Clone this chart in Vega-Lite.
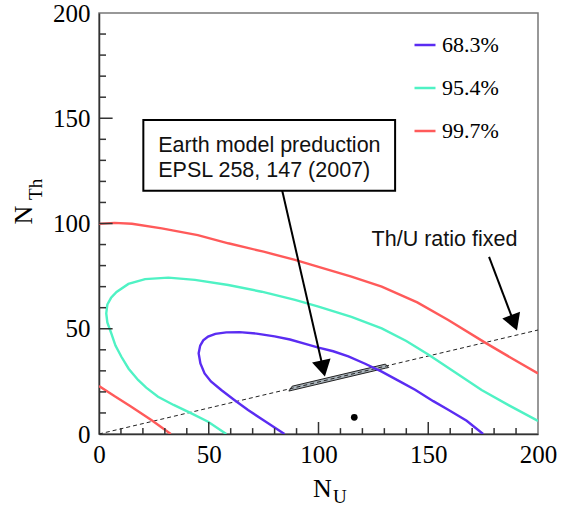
{
  "$schema": "https://vega.github.io/schema/vega-lite/v6.json",
  "width": 439,
  "height": 421,
  "autosize": {"type": "none"},
  "padding": {"left": 99, "top": 13, "right": 28, "bottom": 74},
  "background": "white",
  "datasets": {
    "contours": [
      {"level": "99.7%", "seg": "r1", "i": 0, "NU": 0, "NTh": 99.8},
      {"level": "99.7%", "seg": "r1", "i": 1, "NU": 7, "NTh": 100.3},
      {"level": "99.7%", "seg": "r1", "i": 2, "NU": 15, "NTh": 99.9},
      {"level": "99.7%", "seg": "r1", "i": 3, "NU": 28.6, "NTh": 97.7},
      {"level": "99.7%", "seg": "r1", "i": 4, "NU": 45, "NTh": 94.5},
      {"level": "99.7%", "seg": "r1", "i": 5, "NU": 58.9, "NTh": 90.6},
      {"level": "99.7%", "seg": "r1", "i": 6, "NU": 75, "NTh": 86.6},
      {"level": "99.7%", "seg": "r1", "i": 7, "NU": 89.3, "NTh": 82.7},
      {"level": "99.7%", "seg": "r1", "i": 8, "NU": 100, "NTh": 79.4},
      {"level": "99.7%", "seg": "r1", "i": 9, "NU": 115, "NTh": 74.8},
      {"level": "99.7%", "seg": "r1", "i": 10, "NU": 128.8, "NTh": 70.0},
      {"level": "99.7%", "seg": "r1", "i": 11, "NU": 145, "NTh": 62.5},
      {"level": "99.7%", "seg": "r1", "i": 12, "NU": 159.1, "NTh": 54.2},
      {"level": "99.7%", "seg": "r1", "i": 13, "NU": 175.9, "NTh": 43.4},
      {"level": "99.7%", "seg": "r1", "i": 14, "NU": 188, "NTh": 36},
      {"level": "99.7%", "seg": "r1", "i": 15, "NU": 200, "NTh": 28.8},
      {"level": "99.7%", "seg": "r2", "i": 0, "NU": 0, "NTh": 22.8},
      {"level": "99.7%", "seg": "r2", "i": 1, "NU": 7, "NTh": 18},
      {"level": "99.7%", "seg": "r2", "i": 2, "NU": 14.7, "NTh": 13},
      {"level": "99.7%", "seg": "r2", "i": 3, "NU": 24, "NTh": 6.5},
      {"level": "99.7%", "seg": "r2", "i": 4, "NU": 32.7, "NTh": 0},
      {"level": "95.4%", "seg": "c", "i": 0, "NU": 58, "NTh": 0},
      {"level": "95.4%", "seg": "c", "i": 1, "NU": 49.7, "NTh": 5.8},
      {"level": "95.4%", "seg": "c", "i": 2, "NU": 42.1, "NTh": 9.8},
      {"level": "95.4%", "seg": "c", "i": 3, "NU": 34, "NTh": 13.8},
      {"level": "95.4%", "seg": "c", "i": 4, "NU": 26.9, "NTh": 17.7},
      {"level": "95.4%", "seg": "c", "i": 5, "NU": 21.5, "NTh": 22},
      {"level": "95.4%", "seg": "c", "i": 6, "NU": 17.8, "NTh": 25.7},
      {"level": "95.4%", "seg": "c", "i": 7, "NU": 13.5, "NTh": 31},
      {"level": "95.4%", "seg": "c", "i": 8, "NU": 10.2, "NTh": 36.7},
      {"level": "95.4%", "seg": "c", "i": 9, "NU": 7.5, "NTh": 42},
      {"level": "95.4%", "seg": "c", "i": 10, "NU": 5.6, "NTh": 47.8},
      {"level": "95.4%", "seg": "c", "i": 11, "NU": 3.8, "NTh": 53},
      {"level": "95.4%", "seg": "c", "i": 12, "NU": 3.3, "NTh": 57.3},
      {"level": "95.4%", "seg": "c", "i": 13, "NU": 3.8, "NTh": 61.5},
      {"level": "95.4%", "seg": "c", "i": 14, "NU": 5.5, "NTh": 64.7},
      {"level": "95.4%", "seg": "c", "i": 15, "NU": 8, "NTh": 67.5},
      {"level": "95.4%", "seg": "c", "i": 16, "NU": 13.4, "NTh": 71.3},
      {"level": "95.4%", "seg": "c", "i": 17, "NU": 21, "NTh": 73.6},
      {"level": "95.4%", "seg": "c", "i": 18, "NU": 31.6, "NTh": 74.3},
      {"level": "95.4%", "seg": "c", "i": 19, "NU": 43.7, "NTh": 73.2},
      {"level": "95.4%", "seg": "c", "i": 20, "NU": 58.9, "NTh": 70.8},
      {"level": "95.4%", "seg": "c", "i": 21, "NU": 74.1, "NTh": 67.6},
      {"level": "95.4%", "seg": "c", "i": 22, "NU": 89.3, "NTh": 63.7},
      {"level": "95.4%", "seg": "c", "i": 23, "NU": 100, "NTh": 60.5},
      {"level": "95.4%", "seg": "c", "i": 24, "NU": 115, "NTh": 55.6},
      {"level": "95.4%", "seg": "c", "i": 25, "NU": 128.8, "NTh": 50.2},
      {"level": "95.4%", "seg": "c", "i": 26, "NU": 140, "NTh": 44.2},
      {"level": "95.4%", "seg": "c", "i": 27, "NU": 150, "NTh": 37.8},
      {"level": "95.4%", "seg": "c", "i": 28, "NU": 162, "NTh": 29.5},
      {"level": "95.4%", "seg": "c", "i": 29, "NU": 174.3, "NTh": 20.9},
      {"level": "95.4%", "seg": "c", "i": 30, "NU": 187, "NTh": 13.5},
      {"level": "95.4%", "seg": "c", "i": 31, "NU": 200, "NTh": 6.2},
      {"level": "68.3%", "seg": "b", "i": 0, "NU": 84.5, "NTh": 0},
      {"level": "68.3%", "seg": "b", "i": 1, "NU": 76, "NTh": 5.8},
      {"level": "68.3%", "seg": "b", "i": 2, "NU": 67.9, "NTh": 11.4},
      {"level": "68.3%", "seg": "b", "i": 3, "NU": 61.5, "NTh": 16.3},
      {"level": "68.3%", "seg": "b", "i": 4, "NU": 55.7, "NTh": 20.9},
      {"level": "68.3%", "seg": "b", "i": 5, "NU": 51, "NTh": 25},
      {"level": "68.3%", "seg": "b", "i": 6, "NU": 48.1, "NTh": 28.8},
      {"level": "68.3%", "seg": "b", "i": 7, "NU": 46.2, "NTh": 33.5},
      {"level": "68.3%", "seg": "b", "i": 8, "NU": 45.4, "NTh": 38.3},
      {"level": "68.3%", "seg": "b", "i": 9, "NU": 46.1, "NTh": 42},
      {"level": "68.3%", "seg": "b", "i": 10, "NU": 47.5, "NTh": 44.5},
      {"level": "68.3%", "seg": "b", "i": 11, "NU": 49.7, "NTh": 46.3},
      {"level": "68.3%", "seg": "b", "i": 12, "NU": 53, "NTh": 47.6},
      {"level": "68.3%", "seg": "b", "i": 13, "NU": 58, "NTh": 48.3},
      {"level": "68.3%", "seg": "b", "i": 14, "NU": 64, "NTh": 48.4},
      {"level": "68.3%", "seg": "b", "i": 15, "NU": 71.8, "NTh": 47.7},
      {"level": "68.3%", "seg": "b", "i": 16, "NU": 80, "NTh": 46.4},
      {"level": "68.3%", "seg": "b", "i": 17, "NU": 87, "NTh": 44.9},
      {"level": "68.3%", "seg": "b", "i": 18, "NU": 94, "NTh": 42.8},
      {"level": "68.3%", "seg": "b", "i": 19, "NU": 100, "NTh": 41},
      {"level": "68.3%", "seg": "b", "i": 20, "NU": 106.7, "NTh": 39.3},
      {"level": "68.3%", "seg": "b", "i": 21, "NU": 113.6, "NTh": 36.9},
      {"level": "68.3%", "seg": "b", "i": 22, "NU": 121, "NTh": 33.5},
      {"level": "68.3%", "seg": "b", "i": 23, "NU": 128.8, "NTh": 29.6},
      {"level": "68.3%", "seg": "b", "i": 24, "NU": 137, "NTh": 25},
      {"level": "68.3%", "seg": "b", "i": 25, "NU": 144, "NTh": 21},
      {"level": "68.3%", "seg": "b", "i": 26, "NU": 152.3, "NTh": 15.6},
      {"level": "68.3%", "seg": "b", "i": 27, "NU": 159.1, "NTh": 11.5},
      {"level": "68.3%", "seg": "b", "i": 28, "NU": 167.5, "NTh": 6.3},
      {"level": "68.3%", "seg": "b", "i": 29, "NU": 175, "NTh": 0}
    ],
    "ratio": [
      {"NU": 0, "NTh": 0},
      {"NU": 200, "NTh": 49.4}
    ],
    "band": [
      {"NU": 86.5, "NTh": 20.4, "hi": 20.4},
      {"NU": 88, "NTh": 20.77, "hi": 22.7},
      {"NU": 130.5, "NTh": 31.27, "hi": 33.2},
      {"NU": 132, "NTh": 31.6, "hi": 31.6}
    ],
    "arrows": [
      {"arrow": "model", "i": 0, "NU": 83.4, "NTh": 115.9},
      {"arrow": "model", "i": 1, "NU": 102.1, "NTh": 31.1},
      {"arrow": "ratio", "i": 0, "NU": 177.7, "NTh": 84.1},
      {"arrow": "ratio", "i": 1, "NU": 189.1, "NTh": 52.8}
    ],
    "heads": [
      {"NU": 102.1, "NTh": 31.1, "ang": -12.7},
      {"NU": 189.1, "NTh": 52.8, "ang": -20.7}
    ],
    "box": [
      {"NU": 20.2, "NU2": 134.9, "NTh": 115.6, "NTh2": 149.2}
    ],
    "notes": [
      {"NU": 27.0, "NTh": 134.1, "text": "Earth model preduction"},
      {"NU": 27.0, "NTh": 122.2, "text": "EPSL 258, 147 (2007)"},
      {"NU": 124.2, "NTh": 89.5, "text": "Th/U ratio fixed"}
    ],
    "best": [
      {"NU": 116.3, "NTh": 7.9}
    ],
    "majorTicks": [
      {"v": 50}, {"v": 100}, {"v": 150}
    ],
    "minorTicks": [
      {"v": 10}, {"v": 20}, {"v": 30}, {"v": 40}, {"v": 60}, {"v": 70}, {"v": 80}, {"v": 90},
      {"v": 110}, {"v": 120}, {"v": 130}, {"v": 140}, {"v": 160}, {"v": 170}, {"v": 180}, {"v": 190}
    ]
  },
  "layer": [
    {
      "data": {"name": "band"},
      "mark": {"type": "area", "fill": "#a9b3ba", "stroke": "#222", "strokeWidth": 1, "opacity": 1},
      "encoding": {
        "x": {"field": "NU", "type": "quantitative", "scale": {"domain": [0, 200], "nice": false}},
        "y": {"field": "NTh", "type": "quantitative", "scale": {"domain": [0, 200], "nice": false}},
        "y2": {"field": "hi"}
      }
    },
    {
      "data": {"name": "ratio"},
      "mark": {"type": "line", "stroke": "#222", "strokeWidth": 1, "strokeDash": [4, 3]},
      "encoding": {
        "x": {"field": "NU", "type": "quantitative"},
        "y": {"field": "NTh", "type": "quantitative"}
      }
    },
    {
      "data": {"name": "contours"},
      "mark": {"type": "line", "strokeWidth": 2.4, "clip": true},
      "encoding": {
        "x": {
          "field": "NU", "type": "quantitative",
          "axis": {
            "orient": "bottom", "values": [0, 50, 100, 150, 200], "ticks": false, "labelPadding": 8,
            "title": null, "grid": false, "labelFlush": false, "labelOverlap": false,
            "domainColor": "#333", "domainWidth": 1.5,
            "labelFont": "Liberation Serif", "labelFontSize": 25, "labelColor": "#000"
          }
        },
        "y": {
          "field": "NTh", "type": "quantitative",
          "axis": {
            "orient": "left", "values": [0, 50, 100, 150, 200], "ticks": false, "labelPadding": 9,
            "title": null, "grid": false, "labelFlush": false, "labelOverlap": false,
            "domainColor": "#333", "domainWidth": 1.5,
            "labelFont": "Liberation Serif", "labelFontSize": 25, "labelColor": "#000"
          }
        },
        "color": {
          "field": "level", "type": "nominal",
          "scale": {"domain": ["68.3%", "95.4%", "99.7%"], "range": ["#5a2cf2", "#4ff2c4", "#ff5a5a"]},
          "legend": {
            "orient": "none", "legendX": 314, "legendY": 20, "title": null,
            "symbolType": "stroke", "symbolSize": 441, "symbolStrokeWidth": 2.5,
            "labelFont": "Liberation Serif", "labelFontSize": 22, "labelColor": "#000",
            "labelOffset": 5, "rowPadding": 20, "padding": 0
          }
        },
        "detail": {"field": "seg"},
        "order": {"field": "i"}
      }
    },
    {
      "data": {"name": "arrows"},
      "mark": {"type": "line", "stroke": "#000", "strokeWidth": 2},
      "encoding": {
        "x": {"field": "NU", "type": "quantitative"},
        "y": {"field": "NTh", "type": "quantitative"},
        "detail": {"field": "arrow"},
        "order": {"field": "i"}
      }
    },
    {
      "data": {"name": "heads"},
      "mark": {"type": "point", "shape": "triangle-down", "filled": true, "fill": "#000", "opacity": 1, "size": 360, "strokeWidth": 0},
      "encoding": {
        "x": {"field": "NU", "type": "quantitative"},
        "y": {"field": "NTh", "type": "quantitative"},
        "angle": {"field": "ang", "type": "quantitative", "scale": null}
      }
    },
    {
      "data": {"name": "box"},
      "mark": {"type": "rect", "fill": "white", "stroke": "#000", "strokeWidth": 2},
      "encoding": {
        "x": {"field": "NU", "type": "quantitative"},
        "x2": {"field": "NU2"},
        "y": {"field": "NTh", "type": "quantitative"},
        "y2": {"field": "NTh2"}
      }
    },
    {
      "data": {"name": "notes"},
      "mark": {"type": "text", "font": "Liberation Sans", "fontSize": 21.5, "align": "left", "baseline": "alphabetic", "color": "#111"},
      "encoding": {
        "x": {"field": "NU", "type": "quantitative"},
        "y": {"field": "NTh", "type": "quantitative"},
        "text": {"field": "text"}
      }
    },
    {
      "data": {"values": [{"NU": 101.8, "NTh": -29.9, "text": "N"}]},
      "mark": {"type": "text", "font": "Liberation Serif", "fontSize": 26, "align": "center", "baseline": "alphabetic", "color": "#000"},
      "encoding": {
        "x": {"field": "NU", "type": "quantitative"},
        "y": {"field": "NTh", "type": "quantitative"},
        "text": {"field": "text"}
      }
    },
    {
      "data": {"values": [{"NU": 106.6, "NTh": -32.8, "text": "U"}]},
      "mark": {"type": "text", "font": "Liberation Serif", "fontSize": 19, "align": "left", "baseline": "alphabetic", "color": "#000"},
      "encoding": {
        "x": {"field": "NU", "type": "quantitative"},
        "y": {"field": "NTh", "type": "quantitative"},
        "text": {"field": "text"}
      }
    },
    {
      "data": {"values": [{"NU": -30.5, "NTh": 104, "text": "N"}]},
      "mark": {"type": "text", "font": "Liberation Serif", "fontSize": 26, "align": "center", "baseline": "alphabetic", "angle": 270, "color": "#000"},
      "encoding": {
        "x": {"field": "NU", "type": "quantitative"},
        "y": {"field": "NTh", "type": "quantitative"},
        "text": {"field": "text"}
      }
    },
    {
      "data": {"values": [{"NU": -26, "NTh": 111.2, "text": "Th"}]},
      "mark": {"type": "text", "font": "Liberation Serif", "fontSize": 19, "align": "left", "baseline": "alphabetic", "angle": 270, "color": "#000"},
      "encoding": {
        "x": {"field": "NU", "type": "quantitative"},
        "y": {"field": "NTh", "type": "quantitative"},
        "text": {"field": "text"}
      }
    },
    {
      "data": {"name": "best"},
      "mark": {"type": "point", "shape": "circle", "filled": true, "fill": "#000", "opacity": 1, "size": 45},
      "encoding": {
        "x": {"field": "NU", "type": "quantitative"},
        "y": {"field": "NTh", "type": "quantitative"}
      }
    },
    {
      "data": {"name": "majorTicks"},
      "mark": {"type": "rule", "color": "#333", "strokeWidth": 1.5},
      "encoding": {
        "x": {"field": "v", "type": "quantitative"},
        "y": {"datum": 0, "type": "quantitative"},
        "y2": {"datum": 5.7}
      }
    },
    {
      "data": {"name": "majorTicks"},
      "mark": {"type": "rule", "color": "#333", "strokeWidth": 1.5},
      "encoding": {
        "y": {"field": "v", "type": "quantitative"},
        "x": {"datum": 0, "type": "quantitative"},
        "x2": {"datum": 6.2}
      }
    },
    {
      "data": {"name": "minorTicks"},
      "mark": {"type": "rule", "color": "#333", "strokeWidth": 1.5},
      "encoding": {
        "x": {"field": "v", "type": "quantitative"},
        "y": {"datum": 0, "type": "quantitative"},
        "y2": {"datum": 2.8}
      }
    },
    {
      "data": {"name": "minorTicks"},
      "mark": {"type": "rule", "color": "#333", "strokeWidth": 1.5},
      "encoding": {
        "y": {"field": "v", "type": "quantitative"},
        "x": {"datum": 0, "type": "quantitative"},
        "x2": {"datum": 3.2}
      }
    }
  ],
  "config": {
    "view": {"stroke": "#777", "strokeWidth": 1.5},
    "font": "Liberation Serif",
    "legend": {"labelFont": "Liberation Serif", "labelFontSize": 22, "labelColor": "#000"}
  }
}
